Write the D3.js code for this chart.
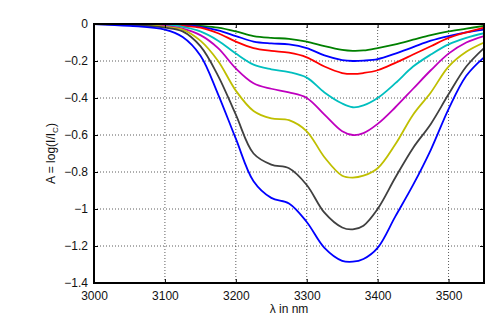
<!DOCTYPE html>
<html>
<head>
<meta charset="utf-8">
<script src="https://cdn.jsdelivr.net/npm/d3@7"></script>
<style>
  body { margin: 0; background: #fff; }
  svg { display: block; font-family: "Liberation Sans", Arial, sans-serif; }
</style>
</head>
<body>
<div id="chart"></div>
<script>
const lambda = [3000, 3050, 3100, 3125, 3150, 3175, 3200, 3225, 3250, 3275, 3300,
                3325, 3350, 3365, 3380, 3400, 3425, 3450, 3475, 3500, 3525, 3550];

// absorbance curves, top to bottom
const greenA   = [0, 0, 0, -0.003, -0.01, -0.02, -0.04, -0.065, -0.075, -0.08, -0.095,
                  -0.12, -0.14, -0.145, -0.143, -0.13, -0.11, -0.085, -0.06, -0.04, -0.025, -0.01];
const blueA    = [0, 0, 0, -0.005, -0.015, -0.035, -0.065, -0.095, -0.105, -0.11, -0.13,
                  -0.17, -0.195, -0.2, -0.198, -0.19, -0.16, -0.125, -0.09, -0.065, -0.045, -0.03];
const redA     = [0, 0, 0, -0.01, -0.02, -0.05, -0.095, -0.13, -0.145, -0.155, -0.18,
                  -0.23, -0.265, -0.27, -0.265, -0.25, -0.21, -0.165, -0.12, -0.075, -0.045, -0.02];
const cyanA    = [0, 0, -0.005, -0.015, -0.04, -0.09, -0.16, -0.22, -0.245, -0.26, -0.29,
                  -0.37, -0.43, -0.45, -0.44, -0.4, -0.32, -0.23, -0.165, -0.11, -0.075, -0.05];
const magentaA = [0, 0, -0.01, -0.025, -0.06, -0.13, -0.24, -0.32, -0.35, -0.37, -0.4,
                  -0.49, -0.58, -0.6, -0.59, -0.54, -0.45, -0.35, -0.25, -0.16, -0.1, -0.065];
const yellowA  = [0, 0, -0.015, -0.03, -0.09, -0.2, -0.36, -0.47, -0.51, -0.52, -0.58,
                  -0.72, -0.82, -0.83, -0.82, -0.78, -0.65, -0.49, -0.37, -0.23, -0.15, -0.1];
const grayA    = [0, -0.005, -0.02, -0.04, -0.12, -0.28, -0.49, -0.7, -0.76, -0.78, -0.87,
                  -1.02, -1.1, -1.11, -1.09, -1.0, -0.83, -0.67, -0.54, -0.38, -0.23, -0.13];
const blue2A   = [0, -0.01, -0.03, -0.07, -0.17, -0.38, -0.62, -0.85, -0.94, -0.97, -1.07,
                  -1.21, -1.28, -1.285, -1.27, -1.21, -1.04, -0.87, -0.68, -0.46, -0.28, -0.18];

const seriesNames = ["green", "blue", "red", "cyan", "magenta", "yellow", "gray", "blue2"];
const seriesValues = [greenA, blueA, redA, cyanA, magentaA, yellowA, grayA, blue2A];

const xTicks = [3000, 3100, 3200, 3300, 3400, 3500];
const yTicks = [0, -0.2, -0.4, -0.6, -0.8, -1, -1.2, -1.4];

const colors = {
    green: "#008000", blue: "#0000ff", red: "#ff0000", cyan: "#00bfbf",
    magenta: "#bf00bf", yellow: "#bfbf00", gray: "#404040", blue2: "#0000ff"
};

const w = 500, h = 323;
const m = { left: 94, right: 16, top: 24, bottom: 40 };

const svg = d3.select("#chart").append("svg").attr("width", w).attr("height", h);

const x = d3.scaleLinear().domain([3000, 3550]).range([m.left, w - m.right]);
const y = d3.scaleLinear().domain([-1.4, 0]).range([h - m.bottom, m.top]);

svg.append("clipPath").attr("id", "plot-clip").append("rect")
    .attr("x", m.left).attr("y", m.top)
    .attr("width", w - m.left - m.right).attr("height", h - m.top - m.bottom);

// dotted grid
svg.append("g").selectAll("line").data(xTicks.slice(1)).join("line")
    .attr("x1", d => x(d)).attr("x2", d => x(d))
    .attr("y1", m.top).attr("y2", h - m.bottom)
    .attr("stroke", "#333").attr("stroke-width", 0.8).attr("stroke-dasharray", "1,2");
svg.append("g").selectAll("line").data(yTicks.slice(1, -1)).join("line")
    .attr("x1", m.left).attr("x2", w - m.right)
    .attr("y1", d => y(d)).attr("y2", d => y(d))
    .attr("stroke", "#333").attr("stroke-width", 0.8).attr("stroke-dasharray", "1,2");

// curves
const line = d3.line()
    .x((d, i) => x(lambda[i]))
    .y(d => y(d))
    .curve(d3.curveCatmullRom.alpha(0.5));

svg.append("g").attr("clip-path", "url(#plot-clip)")
    .selectAll("path").data(seriesNames).join("path")
    .attr("fill", "none")
    .attr("stroke", (d) => colors[d])
    .attr("stroke-width", 1.8)
    .attr("d", (d, i) => line(seriesValues[i]));

// axes (ticks inward, on all sides)
const fmt = d => d === 0 ? "0" : d3.format("")(d).replace("-", "\u2212");
svg.append("g")
    .attr("transform", `translate(0,${h - m.bottom})`)
    .call(d3.axisBottom(x).tickValues(xTicks).tickSizeInner(-4).tickSizeOuter(0).tickPadding(8).tickFormat(d3.format("d")));
svg.append("g")
    .attr("transform", `translate(${m.left},0)`)
    .call(d3.axisLeft(y).tickValues(yTicks).tickSizeInner(-4).tickSizeOuter(0).tickPadding(6).tickFormat(fmt));
svg.append("g")
    .attr("transform", `translate(0,${m.top})`)
    .call(d3.axisTop(x).tickValues(xTicks).tickSizeInner(-4).tickSizeOuter(0).tickFormat(""));
svg.append("g")
    .attr("transform", `translate(${w - m.right},0)`)
    .call(d3.axisRight(y).tickValues(yTicks).tickSizeInner(-4).tickSizeOuter(0).tickFormat(""));

svg.selectAll(".domain").remove();
svg.selectAll(".tick line").attr("stroke", "#000").attr("stroke-width", 1);
svg.selectAll(".tick text").attr("font-size", 12).attr("fill", "#111")
    .attr("font-family", "Liberation Sans, Arial, sans-serif");

// box
svg.append("rect")
    .attr("x", m.left).attr("y", m.top)
    .attr("width", w - m.left - m.right).attr("height", h - m.top - m.bottom)
    .attr("fill", "none").attr("stroke", "#000").attr("stroke-width", 2);

// axis labels
svg.append("text")
    .attr("x", (m.left + w - m.right) / 2).attr("y", 313)
    .attr("text-anchor", "middle").attr("font-size", 12).attr("fill", "#111")
    .text("\u03bb in nm");

const yl = svg.append("text")
    .attr("transform", `translate(55,${(m.top + h - m.bottom) / 2}) rotate(-90)`)
    .attr("text-anchor", "middle").attr("font-size", 12).attr("fill", "#111");
yl.append("tspan").text("A = log(I/I");
yl.append("tspan").attr("font-size", 8).attr("dy", 3).text("C");
yl.append("tspan").attr("dy", -3).text(")");
</script>
</body>
</html>
